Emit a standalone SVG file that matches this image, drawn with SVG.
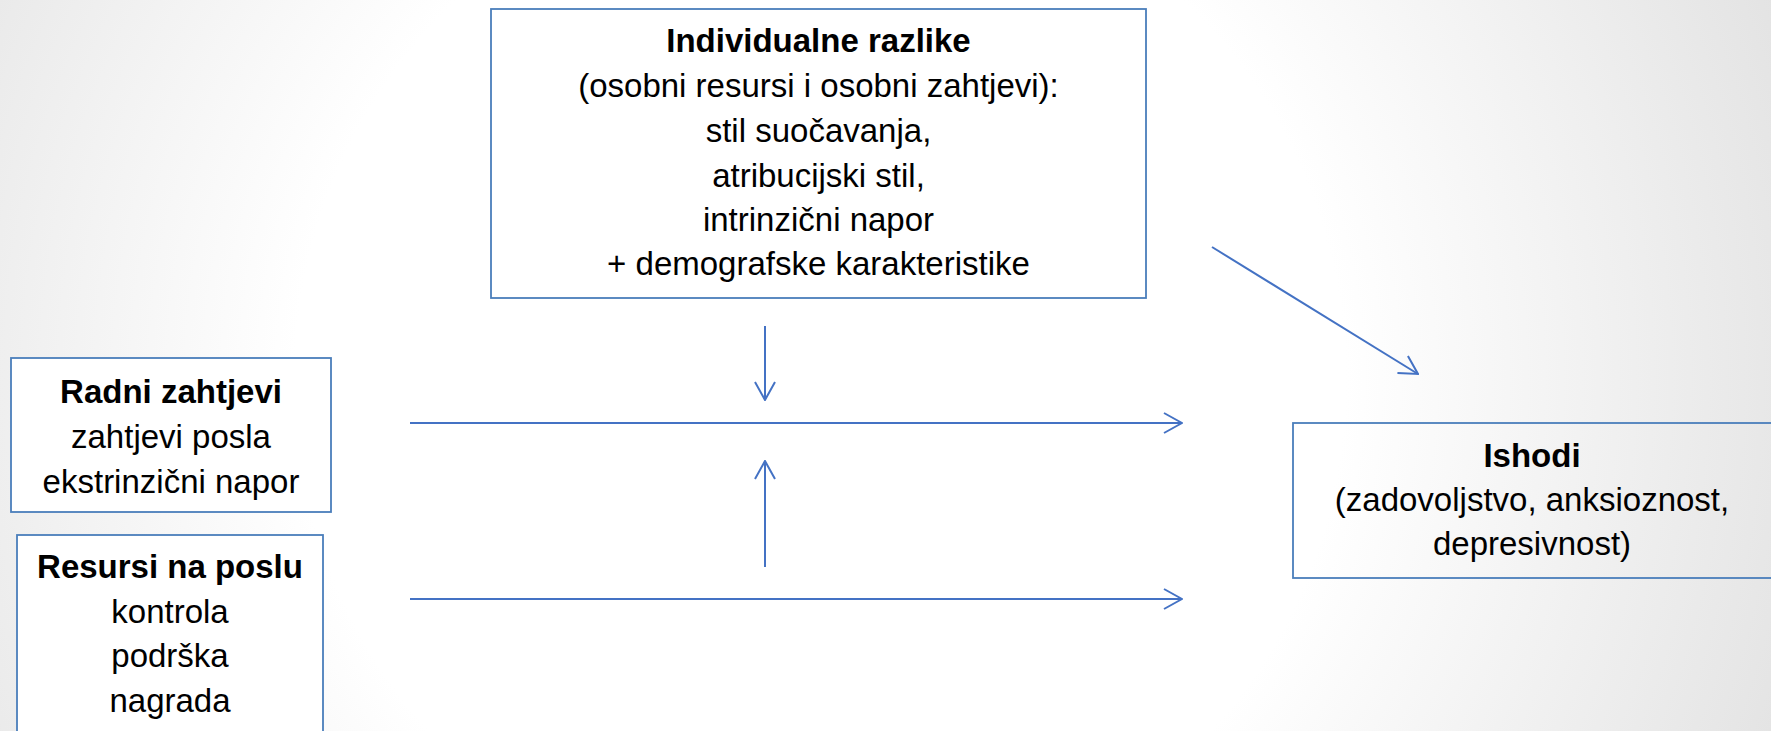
<svg xmlns="http://www.w3.org/2000/svg" width="1771" height="731" viewBox="0 0 1771 731">
  <defs>
    <radialGradient id="bg" gradientUnits="userSpaceOnUse" cx="820" cy="380" r="1050">
      <stop offset="0.5" stop-color="#ffffff"/>
      <stop offset="1" stop-color="#e2e2e2"/>
    </radialGradient>
    <marker id="arr" viewBox="0 0 20 22" refX="19" refY="11" markerWidth="20" markerHeight="22" markerUnits="userSpaceOnUse" orient="auto">
      <path d="M1,1 L19,11 L1,21" fill="none" stroke="#4472C4" stroke-width="2"/>
    </marker>
    <style>
      .box { fill: #ffffff; stroke: #4A7EBB; stroke-width: 1.8; }
      .open { fill: none; stroke: #4A7EBB; stroke-width: 1.8; }
      .t { font-family: "Liberation Sans", Arial, sans-serif; font-size: 33px; fill: #000000; text-anchor: middle; }
      .b { font-weight: bold; }
      .conn { stroke: #4472C4; stroke-width: 2; fill: none; marker-end: url(#arr); }
    </style>
  </defs>
  <rect x="0" y="0" width="1771" height="731" fill="url(#bg)"/>

  <g id="individualne">
    <rect class="box" x="491" y="9" width="655" height="289"/>
    <text class="t b" x="818.5" y="52">Individualne razlike</text>
    <text class="t" x="818.5" y="97">(osobni resursi i osobni zahtjevi):</text>
    <text class="t" x="818.5" y="142">stil suočavanja,</text>
    <text class="t" x="818.5" y="187">atribucijski stil,</text>
    <text class="t" x="818.5" y="231">intrinzični napor</text>
    <text class="t" x="818.5" y="275">+ demografske karakteristike</text>
  </g>

  <g id="radni">
    <rect class="box" x="11" y="358" width="320" height="154"/>
    <text class="t b" x="171" y="403">Radni zahtjevi</text>
    <text class="t" x="171" y="448">zahtjevi posla</text>
    <text class="t" x="171" y="493">ekstrinzični napor</text>
  </g>

  <g id="resursi">
    <rect class="box" x="17" y="535" width="306" height="230"/>
    <text class="t b" x="170" y="578">Resursi na poslu</text>
    <text class="t" x="170" y="623">kontrola</text>
    <text class="t" x="170" y="667">podrška</text>
    <text class="t" x="170" y="712">nagrada</text>
  </g>

  <g id="ishodi">
    <rect class="open" x="1293" y="423" width="500" height="155"/>
    <text class="t b" x="1532" y="467">Ishodi</text>
    <text class="t" x="1532" y="511">(zadovoljstvo, anksioznost,</text>
    <text class="t" x="1532" y="555">depresivnost)</text>
  </g>

  <g id="connectors">
    <line class="conn" x1="410" y1="423" x2="1182" y2="423"/>
    <line class="conn" x1="410" y1="599" x2="1182" y2="599"/>
    <line class="conn" x1="765" y1="326" x2="765" y2="400"/>
    <line class="conn" x1="765" y1="567" x2="765" y2="461"/>
    <line class="conn" x1="1212" y1="247" x2="1418" y2="374"/>
  </g>
</svg>
